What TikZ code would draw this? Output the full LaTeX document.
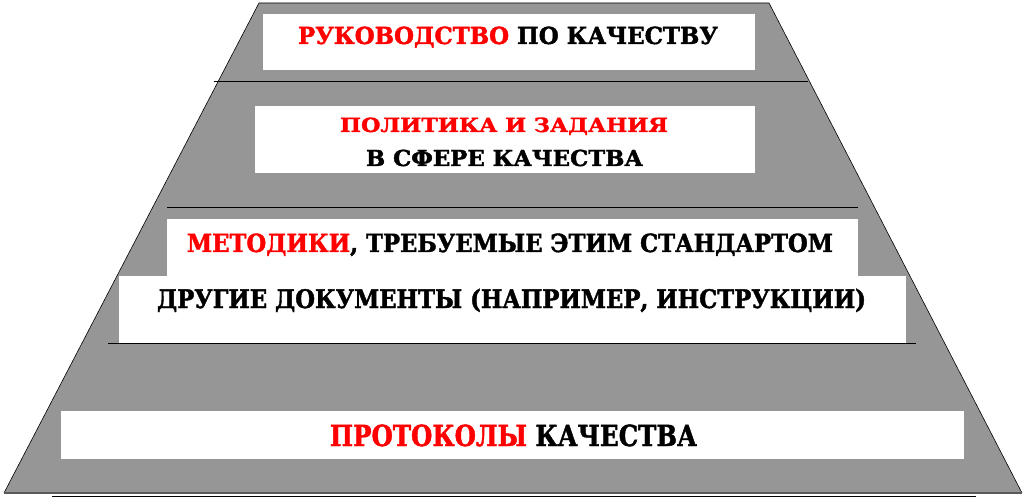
\documentclass[tikz,border=0pt]{standalone}
\usepackage{fontspec}
\newfontfamily\lserif{DejaVu Serif Condensed}[BoldFeatures={FakeBold=1.6}]
\definecolor{pyrgray}{RGB}{150,150,150}
\definecolor{edgegray}{RGB}{90,90,90}
\definecolor{tred}{RGB}{255,0,0}
\tikzset{
  whitebox/.style={fill=white, draw=none},
  sepline/.style={draw=black, line width=0.8pt},
  label/.style={font=\lserif\bfseries, inner sep=0pt, anchor=base, text=black},
}
\newcommand{\rd}[1]{\textcolor{tred}{#1}}
% \fitline{font size}{target width}{text}
\newcommand{\fitline}[3]{\resizebox{#2pt}{\height}{\fontsize{#1}{#1}\selectfont #3}}
\begin{document}
\begin{tikzpicture}[x=1pt,y=-1pt]
\useasboundingbox (0,0) rectangle (1026,497);
% pyramid
\coordinate (tl) at (259,3);
\coordinate (tr) at (769,3);
\coordinate (bl) at (4,493);
\coordinate (br) at (1022,493);
\fill[pyrgray] (tl) -- (tr) -- (br) -- (bl) -- cycle;
\draw[black, line width=0.6pt] (bl) -- (tl) -- (tr) -- (br);
\draw[edgegray, line width=2pt] (bl) -- (br);
\coordinate (bla) at (52,496);
\coordinate (blb) at (976,496);
\draw[sepline] (bla) -- (blb);
% separator lines
\coordinate (s1a) at (214,81); \coordinate (s1b) at (808,81);
\coordinate (s2a) at (167,207); \coordinate (s2b) at (858,207);
\coordinate (s3a) at (108,343); \coordinate (s3b) at (916,343);
\draw[sepline] (s1a) -- (s1b);
\draw[sepline] (s2a) -- (s2b);
\draw[sepline] (s3a) -- (s3b);
% white boxes
\fill[whitebox] (263,14) rectangle (755,70);
\fill[whitebox] (255,106) rectangle (755,173);
\fill[whitebox] (167,219) rectangle (858,277);
\fill[whitebox] (119,276) rectangle (906,343);
\fill[whitebox] (61,411) rectangle (964,459);
% texts
\node[label] (t1) at (508,44) {\fitline{23.5}{420}{\rd{РУКОВОДСТВО} ПО КАЧЕСТВУ}};
\node[label] (t2a) at (504,132) {\fitline{19.5}{328}{\rd{ПОЛИТИКА И ЗАДАНИЯ}}};
\node[label] (t2b) at (504.5,166) {\fitline{22}{277}{В СФЕРЕ КАЧЕСТВА}};
\node[label] (t3) at (510,252) {\fitline{25}{646}{\rd{МЕТОДИКИ}, ТРЕБУЕМЫЕ ЭТИМ СТАНДАРТОМ}};
\node[label] (t4) at (511.5,308) {\fitline{25.5}{709}{ДРУГИЕ ДОКУМЕНТЫ (НАПРИМЕР, ИНСТРУКЦИИ)}};
\node[label] (t5) at (513.5,446) {\fitline{29}{367}{\rd{ПРОТОКОЛЫ} КАЧЕСТВА}};
\end{tikzpicture}
\end{document}
